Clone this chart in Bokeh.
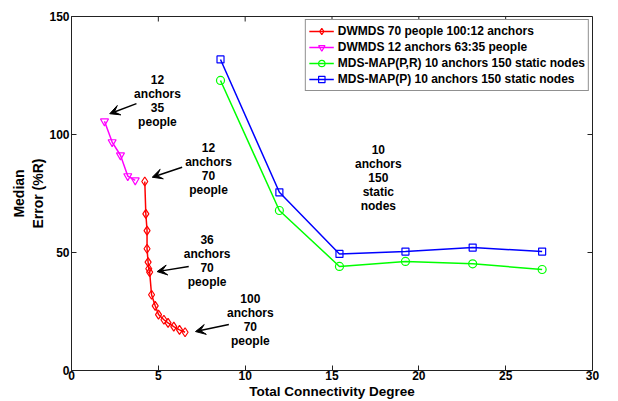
from bokeh.plotting import figure
from bokeh.models import Range1d, Legend, LegendItem, Arrow, VeeHead, FixedTicker, ColumnDataSource
from bokeh.core.properties import value
from bokeh.embed import file_html
from bokeh.resources import INLINE

# ---- data ----
red_x = [4.22, 4.28, 4.35, 4.35, 4.41, 4.45, 4.50, 4.61, 4.82, 5.01, 5.32, 5.56, 5.89, 6.22, 6.54]
red_y = [80.1, 66.4, 59.3, 51.6, 45.9, 43.1, 41.7, 32.1, 27.4, 23.7, 21.5, 20.2, 18.6, 17.2, 16.2]
mag_x = [1.90, 2.34, 2.82, 3.24, 3.67]
mag_y = [105.6, 96.8, 91.2, 82.4, 80.6]
green_x = [8.58, 11.97, 15.43, 19.23, 23.10, 27.10]
green_y = [122.9, 67.8, 44.1, 46.2, 45.2, 42.8]
blue_x = [8.58, 11.97, 15.43, 19.23, 23.10, 27.10]
blue_y = [131.8, 75.5, 49.4, 50.4, 52.1, 50.4]

series_names = ["DWMDS 70 people 100:12 anchors",
                "DWMDS 12 anchors 63:35 people",
                "MDS-MAP(P,R) 10 anchors 150 static nodes",
                "MDS-MAP(P) 10 anchors 150 static nodes"]

ann_text = ["12\nanchors\n35\npeople", "12\nanchors\n70\npeople", "36\nanchors\n70\npeople",
            "100\nanchors\n70\npeople", "10\nanchors\n150\nstatic\nnodes"]
ann_x = [4.95, 7.89, 7.81, 10.3, 17.67]
ann_y = [114.2, 85.2, 46.3, 21.3, 81.4]

arrow_x0 = [3.74, 6.37, 6.75, 9.06]
arrow_y0 = [113.1, 86.1, 44.1, 19.5]
arrow_x1 = [2.20, 4.65, 4.93, 7.14]
arrow_y1 = [108.8, 81.9, 41.9, 16.5]

x_ticks = [0, 5, 10, 15, 20, 25, 30]
y_ticks = [0, 50, 100, 150]

FONT = "Liberation Sans"
X_MIN, X_MAX, Y_MIN, Y_MAX = 0, 30, 0, 150
FRAME_W, FRAME_H = 521, 354
TICK_PX = 5

p = figure(width=618, height=401, output_backend="svg", toolbar_location=None,
           x_range=Range1d(X_MIN, X_MAX), y_range=Range1d(Y_MIN, Y_MAX),
           min_border_left=71, min_border_right=26, min_border_top=16, min_border_bottom=31)
p.background_fill_color = "white"
p.border_fill_color = "white"
p.outline_line_color = "#222222"
p.outline_line_width = 1
p.xgrid.visible = False
p.ygrid.visible = False

for ax in (p.xaxis[0], p.yaxis[0]):
    ax.major_tick_in = TICK_PX
    ax.major_tick_out = 0
    ax.minor_tick_line_color = None
    ax.axis_line_color = "#222222"
    ax.major_tick_line_color = "#222222"
    ax.major_label_text_font = FONT
    ax.major_label_text_font_style = "bold"
    ax.major_label_text_font_size = "12px"
    ax.major_label_text_color = "black"
    ax.axis_label_text_font = FONT
    ax.axis_label_text_font_style = "bold"
    ax.axis_label_text_font_size = "14px"
    ax.axis_label_text_color = "black"

p.xaxis.ticker = FixedTicker(ticks=x_ticks)
p.yaxis.ticker = FixedTicker(ticks=y_ticks)
p.xaxis.axis_label = "Total Connectivity Degree"
p.yaxis.axis_label = "Median\nError (%R)"
p.xaxis.axis_label_text_font_size = "13.5px"
p.xaxis.major_label_standoff = 0
p.xaxis.axis_label_standoff = 1
p.yaxis.major_label_standoff = 2
p.yaxis.axis_label_standoff = 0

# inward ticks on top and right edges (mirrored box ticks)
dy = TICK_PX * (Y_MAX - Y_MIN) / FRAME_H
dx = TICK_PX * (X_MAX - X_MIN) / FRAME_W
p.segment(x0=x_ticks, y0=[Y_MAX] * len(x_ticks), x1=x_ticks, y1=[Y_MAX - dy] * len(x_ticks),
          line_color="#222222", line_width=1)
p.segment(x0=[X_MAX] * len(y_ticks), y0=y_ticks, x1=[X_MAX - dx] * len(y_ticks), y1=y_ticks,
          line_color="#222222", line_width=1)

lw = 1.5
r_red_l = p.line(red_x, red_y, line_color="#FF0000", line_width=lw)
r_red_m = p.scatter(red_x, red_y, marker="diamond", size=9, line_color="#FF0000", fill_alpha=0, line_width=1.2)
r_mag_l = p.line(mag_x, mag_y, line_color="#FF00FF", line_width=lw)
r_mag_m = p.scatter(mag_x, mag_y, marker="inverted_triangle", size=8, line_color="#FF00FF", fill_alpha=0, line_width=1.2)
r_grn_l = p.line(green_x, green_y, line_color="#00FF00", line_width=lw)
r_grn_m = p.scatter(green_x, green_y, marker="circle", size=8, line_color="#00FF00", fill_alpha=0, line_width=1.2)
r_blu_l = p.line(blue_x, blue_y, line_color="#0000FF", line_width=lw)
r_blu_m = p.scatter(blue_x, blue_y, marker="square", size=7, line_color="#0000FF", fill_alpha=0, line_width=1.2)

src = ColumnDataSource(dict(x=ann_x, y=ann_y, t=ann_text))
p.text(x="x", y="y", text="t", source=src, text_align="center", text_baseline="middle",
       text_font=value(FONT), text_font_style="bold", text_font_size="12px",
       text_color="black", text_line_height=1.0)

for x0, y0, x1, y1 in zip(arrow_x0, arrow_y0, arrow_x1, arrow_y1):
    p.add_layout(Arrow(end=VeeHead(size=10, fill_color="black", line_color="black", line_width=1),
                       x_start=x0, y_start=y0, x_end=x1, y_end=y1,
                       line_color="black", line_width=1.5))

legend = Legend(items=[
    LegendItem(label=series_names[0], renderers=[r_red_l, r_red_m]),
    LegendItem(label=series_names[1], renderers=[r_mag_l, r_mag_m]),
    LegendItem(label=series_names[2], renderers=[r_grn_l, r_grn_m]),
    LegendItem(label=series_names[3], renderers=[r_blu_l, r_blu_m]),
], location="top_right")
legend.margin = 3
legend.padding = 3
legend.spacing = 0
legend.glyph_width = 25
legend.glyph_height = 16
legend.label_height = 16
legend.label_standoff = 4
legend.label_text_font = FONT
legend.label_text_font_style = "bold"
legend.label_text_font_size = "12px"
legend.label_text_color = "black"
legend.border_line_color = "#222222"
legend.border_line_width = 1
legend.background_fill_color = "white"
legend.background_fill_alpha = 1
p.add_layout(legend, "center")

open("out.html", "w").write(file_html(p, INLINE))
